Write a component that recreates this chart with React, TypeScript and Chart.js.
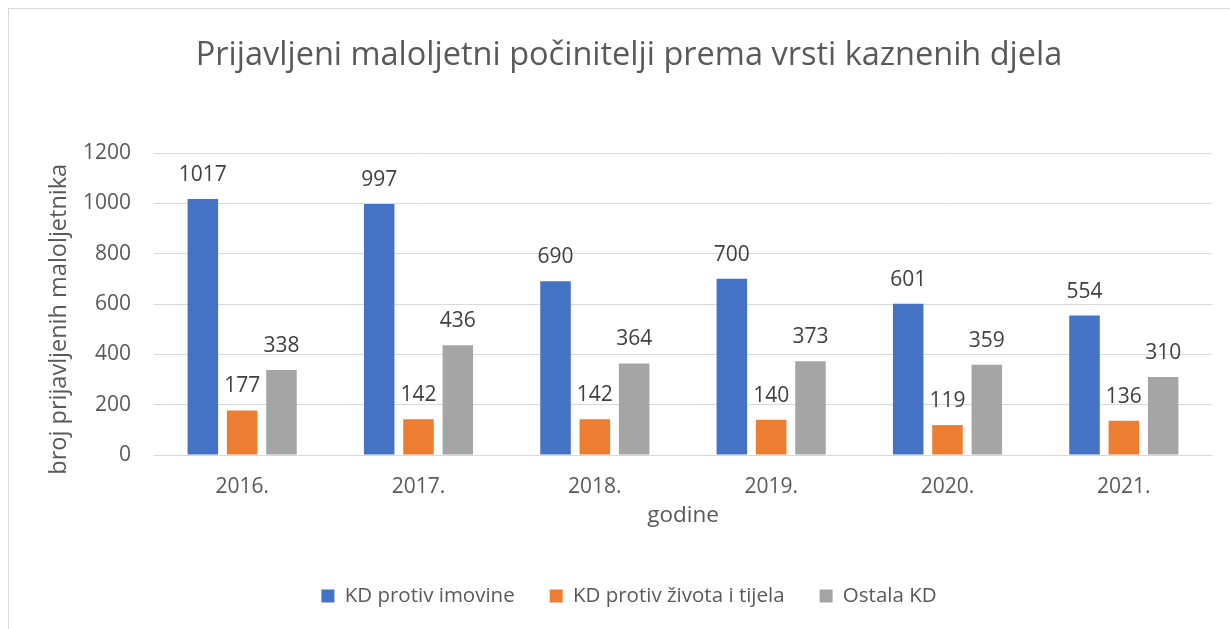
import React, { useEffect, useRef } from "react";
import { Chart, registerables } from "chart.js";

Chart.register(...registerables);

const categories = ["2016.", "2017.", "2018.", "2019.", "2020.", "2021."];
const imovina = [1017, 997, 690, 700, 601, 554];
const zivot = [177, 142, 142, 140, 119, 136];
const ostala = [338, 436, 364, 373, 359, 310];
const seriesNames = ["KD protiv imovine", "KD protiv života i tijela", "Ostala KD"];
const seriesColors = ["#4472C4", "#ED7D31", "#A5A5A5"];
const titleText = "Prijavljeni maloljetni počinitelji prema vrsti kaznenih djela";
const yTitle = "broj prijavljenih maloljetnika";
const xTitle = "godine";

const FONT = "'Open Sans', sans-serif";
const TEXT = "#595959";

const valueLabels = {
  id: "valueLabels",
  afterDatasetsDraw(chart: any) {
    const ctx = chart.ctx;
    ctx.save();
    ctx.font = `21px ${FONT}`;
    ctx.fillStyle = "#404040";
    ctx.textAlign = "center";
    ctx.textBaseline = "middle";
    chart.data.datasets.forEach((ds: any, i: number) => {
      const meta = chart.getDatasetMeta(i);
      meta.data.forEach((el: any, j: number) => {
        ctx.fillText(String(ds.data[j]), el.x, el.y - 24);
      });
    });
    ctx.restore();
  },
};

export default function App() {
  const ref = useRef<HTMLCanvasElement | null>(null);
  useEffect(() => {
    if (!ref.current) return;
    const data = [imovina, zivot, ostala];
    const chart = new Chart(ref.current, {
      type: "bar",
      data: {
        labels: categories,
        datasets: data.map((d, i) => ({
          label: seriesNames[i],
          data: d,
          backgroundColor: seriesColors[i],
          borderWidth: 0,
          categoryPercentage: 0.669,
          barPercentage: 0.776,
        })),
      },
      options: {
        responsive: false,
        animation: false,
        layout: { padding: { left: 46, right: 18, top: 0, bottom: 12.75 } },
        plugins: {
          title: {
            display: true,
            text: titleText,
            color: TEXT,
            font: { family: FONT, size: 32.5, weight: "normal" as any },
            padding: { top: 36.3, bottom: 77.7 },
          },
          legend: {
            display: true,
            position: "bottom",
            labels: {
              color: TEXT,
              font: { family: FONT, size: 20.5 },
              boxWidth: 13,
              boxHeight: 13,
              padding: 35,
            },
          },
          tooltip: { enabled: false },
        },
        scales: {
          x: {
            afterFit: (scale: any) => {
              scale.height = 95.75;
            },
            grid: { display: false, drawTicks: false },
            border: { display: false },
            ticks: { color: TEXT, font: { family: FONT, size: 21 }, padding: 19 },
            title: {
              display: true,
              text: xTitle,
              color: TEXT,
              font: { family: FONT, size: 22.5 },
              padding: { top: 3.6, bottom: 21.5 },
            },
          },
          y: {
            min: 0,
            max: 1200,
            afterFit: (scale: any) => {
              scale.width = 108;
            },
            grid: { color: "#D9D9D9", drawTicks: false, lineWidth: 1 },
            border: { display: false },
            ticks: {
              stepSize: 200,
              color: TEXT,
              font: { family: FONT, size: 21 },
              padding: 23,
              callback: (v: any) => String(v),
            },
            title: {
              display: true,
              text: yTitle + "     ",
              color: TEXT,
              font: { family: FONT, size: 23.5 },
              padding: { top: -1, bottom: 0 },
            },
          },
        },
      },
      plugins: [valueLabels],
    });
    return () => chart.destroy();
  }, []);

  return (
    <div style={{ position: "fixed", left: 0, top: 0, width: 1230, height: 629, overflow: "hidden", background: "#fff" }}>
      <div
        style={{
          position: "absolute",
          left: 8,
          top: 8,
          width: 1300,
          height: 700,
          border: "1px solid #D9D9D9",
        }}
      />
      <canvas ref={ref} width={1230} height={629} style={{ position: "absolute", left: 0, top: 0 }} />
    </div>
  );
}
